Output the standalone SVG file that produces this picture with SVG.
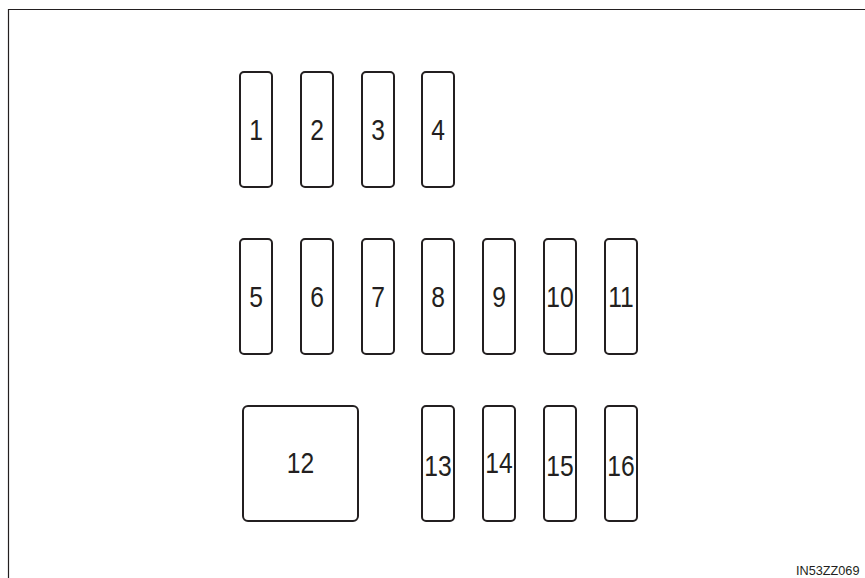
<svg xmlns="http://www.w3.org/2000/svg" width="865" height="578" viewBox="0 0 865 578">
<style>
.b{fill:#fff;stroke:#231f20;stroke-width:2}
.t{font-family:"Liberation Sans",Arial,sans-serif;font-size:29px;fill:#231f20;text-anchor:middle}
.f{font-family:"Liberation Sans",Arial,sans-serif;font-size:12.7px;fill:#231f20}
</style>
<rect width="865" height="578" fill="#fff"/>
<g id="frame"><path d="M8.5 578V9.5H865" fill="none" stroke="#231f20" stroke-width="1.2"/></g>
<g id="connectors"></g>
<g id="n1"><rect class="b" x="240" y="72" width="32" height="115" rx="4"/><text class="t" transform="translate(256,140) scale(0.85,1)">1</text></g>
<g id="n2"><rect class="b" x="301" y="72" width="32" height="115" rx="4"/><text class="t" transform="translate(317,140) scale(0.85,1)">2</text></g>
<g id="n3"><rect class="b" x="362" y="72" width="32" height="115" rx="4"/><text class="t" transform="translate(378,140) scale(0.85,1)">3</text></g>
<g id="n4"><rect class="b" x="422" y="72" width="32" height="115" rx="4"/><text class="t" transform="translate(438,140) scale(0.85,1)">4</text></g>
<g id="n5"><rect class="b" x="240" y="239" width="32" height="115" rx="4"/><text class="t" transform="translate(256,307) scale(0.85,1)">5</text></g>
<g id="n6"><rect class="b" x="301" y="239" width="32" height="115" rx="4"/><text class="t" transform="translate(317,307) scale(0.85,1)">6</text></g>
<g id="n7"><rect class="b" x="362" y="239" width="32" height="115" rx="4"/><text class="t" transform="translate(378,307) scale(0.85,1)">7</text></g>
<g id="n8"><rect class="b" x="422" y="239" width="32" height="115" rx="4"/><text class="t" transform="translate(438,307) scale(0.85,1)">8</text></g>
<g id="n9"><rect class="b" x="483" y="239" width="32" height="115" rx="4"/><text class="t" transform="translate(499,307) scale(0.85,1)">9</text></g>
<g id="n10"><rect class="b" x="544" y="239" width="32" height="115" rx="4"/><text class="t" transform="translate(560,307) scale(0.85,1)">10</text></g>
<g id="n11"><rect class="b" x="605" y="239" width="32" height="115" rx="4"/><text class="t" transform="translate(621,307) scale(0.85,1)">11</text></g>
<g id="n12"><rect class="b" x="243" y="406" width="115" height="115" rx="5"/><text class="t" transform="translate(300.5,473) scale(0.85,1)">12</text></g>
<g id="n13"><rect class="b" x="422" y="406" width="32" height="115" rx="4"/><text class="t" transform="translate(438,475.5) scale(0.85,1)">13</text></g>
<g id="n14"><rect class="b" x="483" y="406" width="32" height="115" rx="4"/><text class="t" transform="translate(499,473) scale(0.85,1)">14</text></g>
<g id="n15"><rect class="b" x="544" y="406" width="32" height="115" rx="4"/><text class="t" transform="translate(560,475.5) scale(0.85,1)">15</text></g>
<g id="n16"><rect class="b" x="605" y="406" width="32" height="115" rx="4"/><text class="t" transform="translate(621,475.5) scale(0.85,1)">16</text></g>
<text class="f" x="796" y="574.5">IN53ZZ069</text>
</svg>
